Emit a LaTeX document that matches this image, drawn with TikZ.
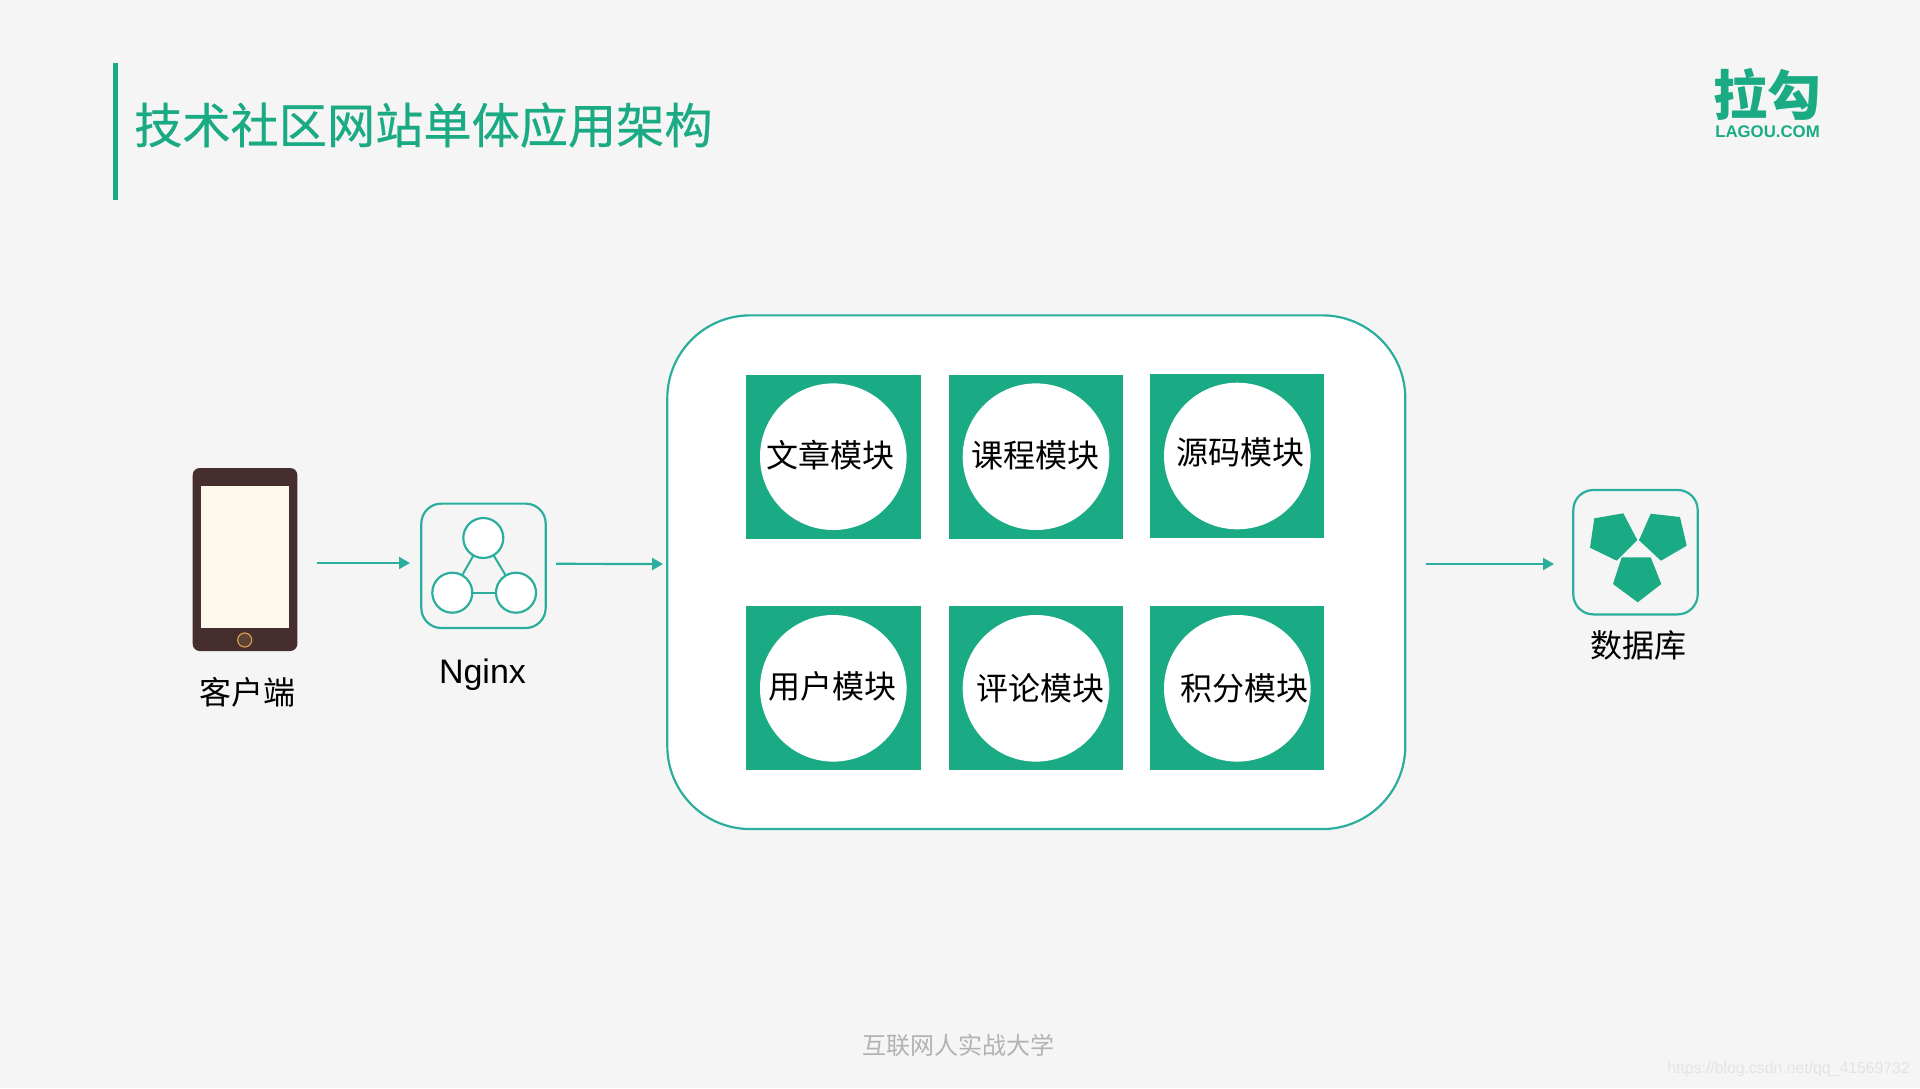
\documentclass[tikz,border=0pt]{standalone}
\usepackage{fontspec}
\setmainfont{Liberation Sans}
\newfontfamily\cjk{Noto Sans CJK SC}
\newfontfamily\cjkt[FakeBold=0.5]{Noto Sans CJK SC}
\usetikzlibrary{arrows.meta}
\definecolor{bgc}{HTML}{F5F5F5}
\definecolor{brand}{HTML}{1AAB85}
\definecolor{teal}{HTML}{2BAE9E}
\definecolor{phonec}{HTML}{462E2E}
\definecolor{screenc}{HTML}{FFF9ED}
\definecolor{btnc}{HTML}{5B4434}
\definecolor{btnl}{HTML}{D49A4E}
\definecolor{wmc}{HTML}{E3E3E3}
\newcommand{\fs}[1]{\fontsize{#1}{#1}\selectfont}
\tikzset{
  x=1pt,y=-1pt,
  conn/.style={draw=teal,line width=2.2pt,-{Triangle[length=11pt,width=12pt]}},
  iconbox/.style={draw=teal,line width=2.2pt,rounded corners=20pt,minimum width=124.4pt,minimum height=124.4pt,inner sep=0pt,outer sep=0pt},
  hub/.style={circle,draw=teal,line width=2.2pt,fill=white,minimum size=40pt,inner sep=0pt,outer sep=0pt},
  hubline/.style={draw=teal,line width=2pt},
  modsq/.style={rectangle,fill=brand,minimum width=174.5pt,minimum height=163.5pt,inner sep=0pt,outer sep=0pt},
  modci/.style={circle,fill=white,minimum size=146.6pt,inner sep=0pt,outer sep=0pt},
  modtx/.style={font=\cjk\fs{32},text=black,inner sep=0pt},
  lab/.style={font=\cjk\fs{32},text=black,inner sep=0pt},
}
\begin{document}
\begin{tikzpicture}
\useasboundingbox (0,0) rectangle (1920,1088);
\fill[bgc] (0,0) rectangle (1920,1088);
% title
\node[rectangle,fill=brand,minimum width=5pt,minimum height=137pt,inner sep=0pt,outer sep=0pt] (bar) at (115.5,131.5) {};
\node[font=\cjkt\fs{48.2},text=brand,inner sep=0pt,anchor=west] (title) at (134,125) {技术社区网站单体应用架构};
% logo
\node[font=\cjk\bfseries\fs{54},text=brand,inner sep=0pt] (logo) at (1767.5,94) {拉勾};
\node[font=\bfseries\fs{16.8},text=brand,inner sep=0pt] (logotx) at (1767.5,132) {LAGOU.COM};
% phone
\node[rectangle,fill=phonec,rounded corners=7pt,minimum width=104.6pt,minimum height=183pt,inner sep=0pt,outer sep=0pt] (phone) at (245,559.5) {};
\node[rectangle,fill=screenc,minimum width=88.4pt,minimum height=142pt,inner sep=0pt,outer sep=0pt] (screen) at (245,556.5) {};
\node[circle,fill=btnc,draw=btnl,line width=1.2pt,minimum size=14pt,inner sep=0pt] (btn) at (244.7,640) {};
\node[lab] (cl) at (247,692) {客户端};
% nginx
\node[iconbox] (nginx) at (483.5,565.8) {};
\node[hub] (h1) at (483.3,538) {};
\node[hub] (h2) at (452.3,592.7) {};
\node[hub] (h3) at (516,592.7) {};
\draw[hubline] (h1) -- (h2);
\draw[hubline] (h1) -- (h3);
\draw[hubline] (h2) -- (h3);
\node[font=\fs{34},text=black,inner sep=0pt,anchor=base] (nl) at (482.5,683) {Nginx};
% main box
\node[draw=teal,line width=2.2pt,fill=white,rounded corners=83pt,minimum width=738pt,minimum height=513.7pt,inner sep=0pt,outer sep=0pt] (main) at (1036.3,572.2) {};
% modules
\node[modsq] (s1) at (833.3,456.8) {};
\node[modsq] (s2) at (1036.2,456.8) {};
\node[modsq] (s3) at (1237.2,455.8) {};
\node[modsq,minimum height=164pt] (s4) at (833.3,688.3) {};
\node[modsq,minimum height=164pt] (s5) at (1036.2,688.3) {};
\node[modsq,minimum height=164pt] (s6) at (1237.2,688.3) {};
\node[modci] (c1) at (833.3,456.7) {};
\node[modci] (c2) at (1036,456.7) {};
\node[modci] (c3) at (1237.3,456) {};
\node[modci] (c4) at (833.3,688.3) {};
\node[modci] (c5) at (1036,688.3) {};
\node[modci] (c6) at (1237.3,688.3) {};
\node[modtx] (t1) at (830,455) {文章模块};
\node[modtx] (t2) at (1035,455) {课程模块};
\node[modtx] (t3) at (1240,452.5) {源码模块};
\node[modtx] (t4) at (832.7,686.7) {用户模块};
\node[modtx] (t5) at (1040,688) {评论模块};
\node[modtx] (t6) at (1244.3,688) {积分模块};
% database
\node[iconbox] (db) at (1635.5,552.2) {};
\fill[brand] (1594.3,518.3) -- (1623.3,513.3) -- (1637.3,540) -- (1616.7,560.7) -- (1590,547.7) -- cycle;
\fill[brand] (1650.7,513.7) -- (1680,517) -- (1686.7,545.7) -- (1661,560.7) -- (1639,540.3) -- cycle;
\fill[brand] (1621.7,557.3) -- (1650.7,557.3) -- (1661.3,584) -- (1637.7,602.3) -- (1613,584) -- cycle;
\node[lab] (dl) at (1638,645) {数据库};
% connectors
\draw[conn] ([xshift=19.7pt,yshift=-3.5pt]phone.east) -- ([xshift=-11.3pt,yshift=2.8pt]nginx.west);
\draw[conn] ([xshift=10.3pt,yshift=2pt]nginx.east) -- ([xshift=-4.3pt,yshift=8.2pt]main.west);
\draw[conn] ([xshift=20.7pt,yshift=8.2pt]main.east) -- ([xshift=-19.3pt,yshift=-11.8pt]db.west);
% footer
\node[font=\cjk\fs{24},text=black!30,inner sep=0pt] (foot) at (958,1045) {互联网人实战大学};
\node[font=\fs{15.8},text=wmc,inner sep=0pt,anchor=east] (wm) at (1910,1069) {https://blog.csdn.net/qq\_41569732};
\end{tikzpicture}
\end{document}
